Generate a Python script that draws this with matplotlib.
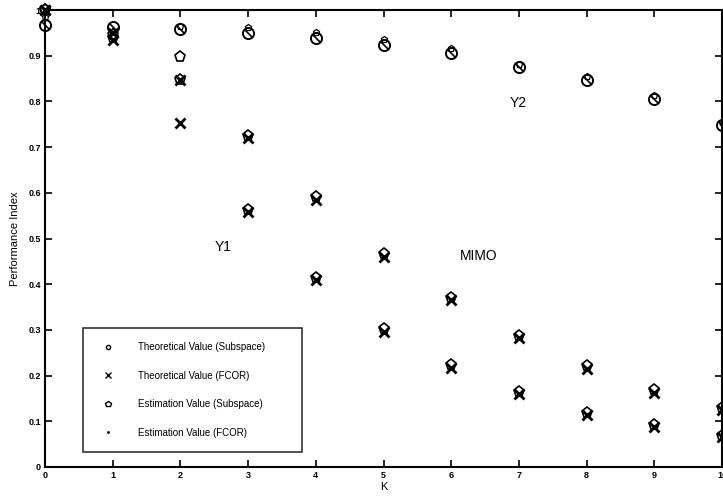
import matplotlib
matplotlib.use("Agg")
import matplotlib.pyplot as plt
from matplotlib.lines import Line2D

plt.rcParams['font.family'] = ['Liberation Sans', 'DejaVu Sans']

K = list(range(11))
y2_theory = [0.967, 0.963, 0.958, 0.950, 0.939, 0.923, 0.906, 0.875, 0.847, 0.805, 0.748]
y2_est = [0.985, 0.955, 0.966, 0.962, 0.952, 0.936, 0.916, 0.882, 0.856, 0.814, 0.756]
y1_theory = [1.0, 0.950, 0.847, 0.720, 0.584, 0.460, 0.365, 0.282, 0.214, 0.162, 0.125]
y1_est = [1.0, 0.945, 0.897, 0.725, 0.590, 0.465, 0.370, 0.287, 0.220, 0.168, 0.130]
mimo_theory = [1.0, 0.935, 0.753, 0.558, 0.409, 0.296, 0.217, 0.160, 0.114, 0.088, 0.065]
mimo_est = [1.0, 0.938, 0.847, 0.562, 0.413, 0.301, 0.223, 0.165, 0.119, 0.091, 0.068]

legend_labels = ["Theoretical Value (Subspace)", "Theoretical Value (FCOR)",
                 "Estimation Value (Subspace)", "Estimation Value (FCOR)"]
x_ticks = list(range(11))
y_ticks = [0, 0.1, 0.2, 0.3, 0.4, 0.5, 0.6, 0.7, 0.8, 0.9, 1]
y_tick_labels = ["0", "0.1", "0.2", "0.3", "0.4", "0.5", "0.6", "0.7", "0.8", "0.9", "1"]

fig = plt.figure(figsize=(7.23, 5.01), dpi=100)
ax = fig.add_axes([45/723, 34/501, 677/723, 457/501])

kw = dict(linestyle='none', color='black', clip_on=False)
# Y2 group
ax.plot(K, y2_theory, marker='o', markersize=8, markerfacecolor='none', markeredgewidth=1.4, **kw)
ax.plot(K, y2_theory, marker=(2, 0, 45), markersize=8, markeredgewidth=1.2, **kw)
ax.plot(K, y2_est, marker='p', markersize=5, markerfacecolor='none', markeredgewidth=0.9, **kw)
# Y1 group
ax.plot(K, y1_theory, marker='x', markersize=7, markeredgewidth=2.0, **kw)
ax.plot(K, y1_est, marker='p', markersize=8, markerfacecolor='none', markeredgewidth=1.2, **kw)
ax.plot(K, y1_theory, marker='.', markersize=2, **kw)
# MIMO group
ax.plot(K, mimo_theory, marker='x', markersize=7, markeredgewidth=2.0, **kw)
ax.plot(K, mimo_est, marker='p', markersize=8, markerfacecolor='none', markeredgewidth=1.2, **kw)
ax.plot(K, mimo_theory, marker='.', markersize=2, **kw)

ax.set_xlim(0, 10)
ax.set_ylim(0, 1)
ax.set_xticks(x_ticks)
ax.set_xticklabels([str(v) for v in x_ticks], fontsize=6.5, fontweight='bold')
ax.set_yticks(y_ticks)
ax.set_yticklabels(y_tick_labels, fontsize=6.5, fontweight='bold')
ax.tick_params(direction='in', length=5, width=1.2, top=True, right=True, pad=3)
for s in ax.spines.values():
    s.set_linewidth(1.5)

ax.set_xlabel("K", fontsize=8, labelpad=1)
ax.set_ylabel("Performance Index", fontsize=8, labelpad=6)

ax.text(6.99, 0.797, "Y2", fontsize=10, ha='center', va='center')
ax.text(2.63, 0.481, "Y1", fontsize=10, ha='center', va='center')
ax.text(6.4, 0.462, "MIMO", fontsize=10, ha='center', va='center')

handles = [
    Line2D([], [], linestyle='none', marker='o', markersize=3, markerfacecolor='none', color='black'),
    Line2D([], [], linestyle='none', marker='x', markersize=4, color='black'),
    Line2D([], [], linestyle='none', marker='p', markersize=4, markerfacecolor='none', color='black'),
    Line2D([], [], linestyle='none', marker='.', markersize=2, color='black'),
]
leg = ax.legend(handles, legend_labels, loc='lower left',
                bbox_to_anchor=(0.056, 0.033, 0.324, 0.26), mode='expand',
                fontsize=7, frameon=True, fancybox=False, edgecolor='black',
                labelspacing=1.9, handletextpad=2.0, borderpad=1.45, handlelength=2.2,
                borderaxespad=0)
leg.get_frame().set_linewidth(1.2)

fig.savefig("out.png", dpi=100, facecolor='white')
